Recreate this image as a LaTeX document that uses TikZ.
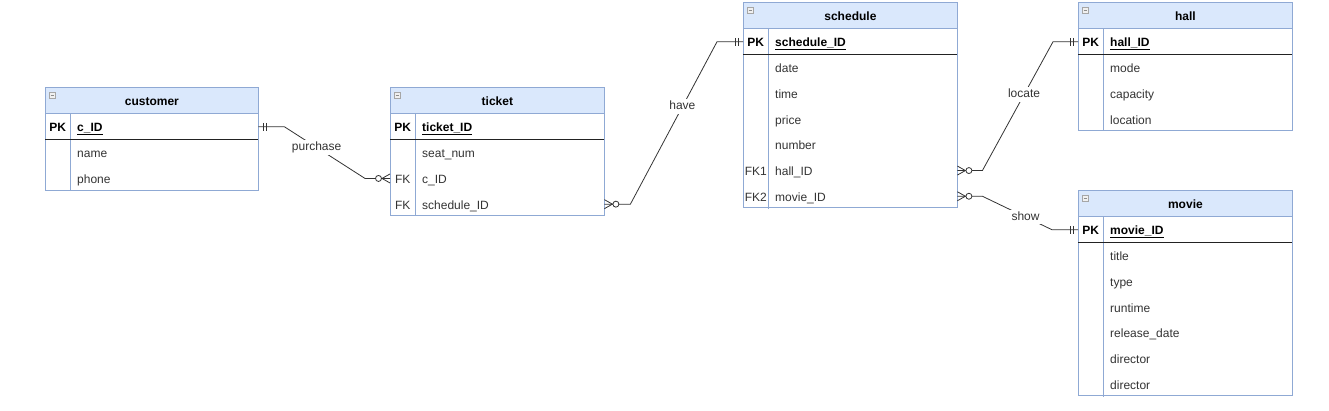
\documentclass[tikz,border=0pt]{standalone}
\usepackage{fontspec}
\setmainfont{Liberation Sans}
\usetikzlibrary{calc}
\definecolor{hdrfill}{HTML}{DAE8FC}
\definecolor{tblline}{HTML}{8FA9D4}
\definecolor{txt}{HTML}{333333}
\definecolor{conncol}{HTML}{333333}
\definecolor{pkline}{HTML}{222222}
\newcommand\fsz{\fontsize{12pt}{14pt}\selectfont}
\tikzset{
  every node/.style={font=\fsz},
  hdr/.style={draw=tblline, fill=hdrfill, line width=0.8pt, minimum height=26pt, inner sep=0pt, text height=10pt, text depth=0pt, font=\fsz\bfseries},
  fld/.style={inner sep=0pt, minimum height=25.7pt},
  keyb/.style={inner sep=0pt, text height=10pt, text depth=0pt, font=\fsz\bfseries},
  keyr/.style={inner sep=0pt, text height=10pt, text depth=0pt, text=txt},
  attr/.style={inner sep=0pt, anchor=west, text height=10pt, text depth=0pt, text=txt},
  pkattr/.style={attr, text=black, font=\fsz\bfseries},
  tbl/.style={draw=tblline, line width=0.8pt},
  pkl/.style={draw=pkline, line width=1.1pt},
  conn/.style={draw=conncol, line width=0.8pt},
  rel/.style={fill=white, inner sep=1.5pt, text=txt, text height=9pt, text depth=2.5pt},
}
% #1 id, #2 left, #3 top, #4 width, #5 title, #6 pk, #7 rows, #8 number of rows
\newcommand\ertable[8]{%
  \node[hdr, minimum width=#4pt, anchor=north west] (#1) at (#2,#3) {#5};
  \draw[draw=gray!70, fill=gray!12, line width=0.5pt] ([shift={(4,5)}]#1.north west) rectangle ++(6,6);
  \draw[gray!90, line width=0.7pt] ([shift={(5.5,8)}]#1.north west) -- ++(3,0);
  \node[fld, minimum width=#4pt, minimum height=25.5pt, anchor=north west] (#1-pk) at (#1.south west) {};
  \node[keyb] (#1-pkk) at ([xshift=12.75pt]#1-pk.west) {PK};
  \node[pkattr] (#1-pkn) at ([xshift=32pt]#1-pk.west) {\underline{#6}};
  \foreach \k/\n [count=\i] in {#7}{%
    \node[fld, minimum width=#4pt, anchor=north west] (#1-\i) at ($(#1-pk.south west)+(0,{25.7*(\i-1)})$) {};
    \node[keyr] (#1-k\i) at ([xshift=12.75pt]#1-\i.west) {\k};
    \node[attr] (#1-n\i) at ([xshift=32pt]#1-\i.west) {\n};
  }
  \draw[tbl] ([xshift=25.5pt]#1.south west) -- ++(0,{25.5+25.7*#8});
  \draw[tbl] (#1.north west) rectangle ([shift={(#4,{51.5+25.7*#8})}]#1.north west);
  \draw[pkl] (#1-pk.south west) -- (#1-pk.south east);
}
% mandatory one: #1 anchor, #2 outward direction (1 right, -1 left)
\newcommand\mone[2]{%
  \draw[conn] ([shift={(#2*5,-4)}]#1) -- ++(0,8);
  \draw[conn] ([shift={(#2*8,-4)}]#1) -- ++(0,8);
}
% zero or many
\newcommand\zmany[2]{%
  \draw[conn] ([shift={(0,-4.5)}]#1) -- ([shift={(#2*8,0)}]#1) -- ([shift={(0,4.5)}]#1);
  \draw[conn, fill=white] ([shift={(#2*11.5,0)}]#1) circle (3pt);
}
\begin{document}
\begin{tikzpicture}[x=1pt,y=-1pt]
\useasboundingbox (0,0) rectangle (1329,410);

\ertable{cust}{45}{87}{213}{customer}{c\_ID}{{}/name,{}/phone}{2}
\ertable{ticket}{390}{87}{214}{ticket}{ticket\_ID}{{}/seat\_num,FK/c\_ID,FK/schedule\_ID}{3}
\ertable{sched}{743}{2}{214}{schedule}{schedule\_ID}{{}/date,{}/time,{}/price,{}/number,FK1/hall\_ID,FK2/movie\_ID}{6}
\ertable{hall}{1078}{2}{214}{hall}{hall\_ID}{{}/mode,{}/capacity,{}/location}{3}
\ertable{movie}{1078}{190}{214}{movie}{movie\_ID}{{}/title,{}/type,{}/runtime,{}/release\_date,{}/director,{}/director}{6}

% connectors
\draw[conn] (cust-pk.east) -- ++(26,0) -- node[rel,pos=0.4]{purchase} ([xshift=-25pt]ticket-2.west) -- (ticket-2.west);
\draw[conn] (ticket-3.east) -- ++(26,0) -- node[rel,pos=0.6]{have} ([xshift=-26pt]sched-pk.west) -- (sched-pk.west);
\draw[conn] (sched-5.east) -- ++(25,0) -- node[rel,pos=0.59]{locate} ([xshift=-25pt]hall-pk.west) -- (hall-pk.west);
\draw[conn] (sched-6.east) -- ++(25,0) -- node[rel,pos=0.62]{show} ([xshift=-26pt]movie-pk.west) -- (movie-pk.west);

\mone{cust-pk.east}{1}
\zmany{ticket-2.west}{-1}
\zmany{ticket-3.east}{1}
\mone{sched-pk.west}{-1}
\zmany{sched-5.east}{1}
\mone{hall-pk.west}{-1}
\zmany{sched-6.east}{1}
\mone{movie-pk.west}{-1}
\end{tikzpicture}
\end{document}
